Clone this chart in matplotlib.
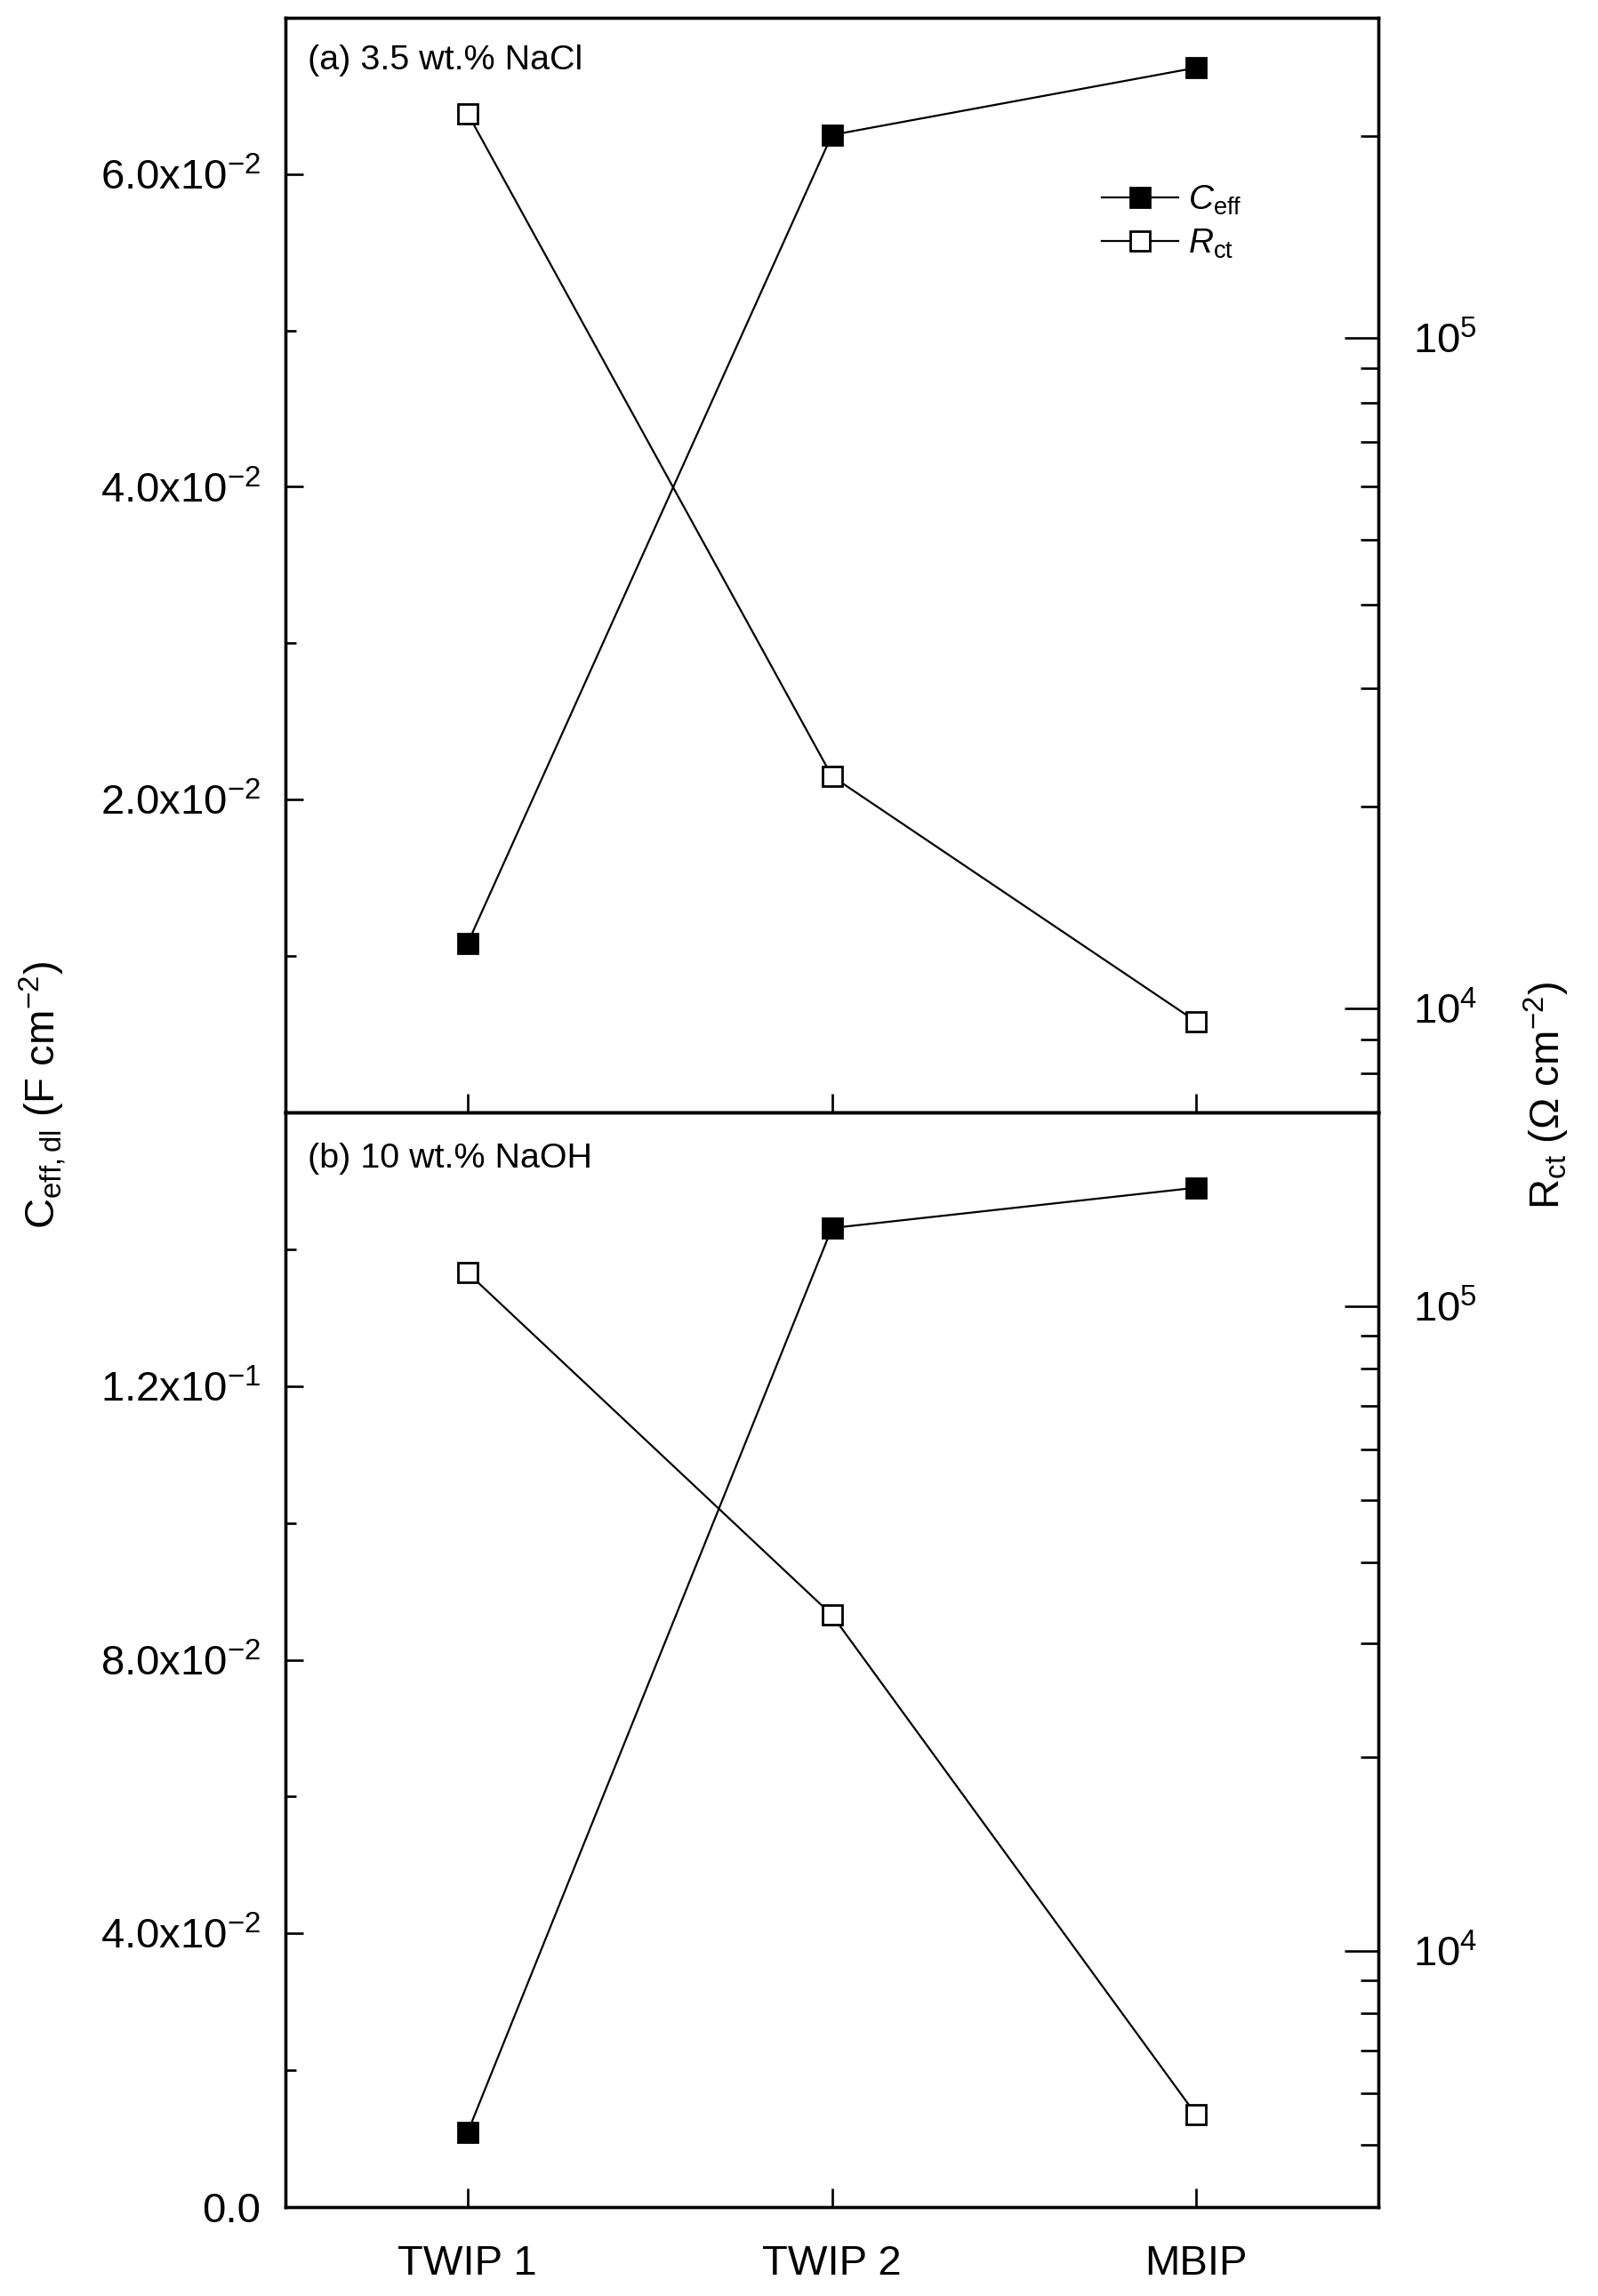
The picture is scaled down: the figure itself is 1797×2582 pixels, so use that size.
import matplotlib
matplotlib.use('Agg')
import matplotlib.pyplot as plt
from matplotlib.lines import Line2D
from matplotlib.ticker import FixedLocator, FixedFormatter, LogLocator, NullFormatter

plt.rcParams['font.family'] = ['Liberation Sans', 'DejaVu Sans']
plt.rcParams['mathtext.fontset'] = 'custom'
plt.rcParams['mathtext.rm'] = 'Liberation Sans'
plt.rcParams['mathtext.it'] = 'Liberation Sans:italic'
plt.rcParams['mathtext.bf'] = 'Liberation Sans:bold'

# data
samples = ['TWIP 1', 'TWIP 2', 'MBIP']
ceff_nacl = [0.0108, 0.0625, 0.0668]      # F cm^-2
rct_nacl = [2.16e5, 2.22e4, 9.56e3]       # Ohm cm^2
ceff_naoh = [0.0109, 0.1431, 0.1490]
rct_naoh = [1.128e5, 3.32e4, 5.56e3]

panel_titles = ['(a) 3.5 wt.% NaCl', '(b) 10 wt.% NaOH']

# left axis ticks
nacl_ceff_ticks = [0.02, 0.04, 0.06]
nacl_ceff_labels = [r'$\mathregular{2.0x10^{-2}}$', r'$\mathregular{4.0x10^{-2}}$',
                    r'$\mathregular{6.0x10^{-2}}$']
nacl_ceff_minor = [0.01, 0.03, 0.05]
naoh_ceff_ticks = [0.0, 0.04, 0.08, 0.12]
naoh_ceff_labels = ['0.0', r'$\mathregular{4.0x10^{-2}}$', r'$\mathregular{8.0x10^{-2}}$',
                    r'$\mathregular{1.2x10^{-1}}$']
naoh_ceff_minor = [0.02, 0.06, 0.10, 0.14]

# right axis ticks
rct_ticks = [1e4, 1e5]
rct_labels = [r'$\mathregular{10^{4}}$', r'$\mathregular{10^{5}}$']

ceff_lims = [(0, 0.07), (0, 0.16)]
rct_lims = [(7e3, 3e5), (4e3, 2e5)]

LW = 0.8
SPINE = 1.2
MS = 8
FS = 17

fig = plt.figure(figsize=(8.985, 12.91), dpi=200)
axes = fig.subplots(2, 1, sharex=True, gridspec_kw=dict(hspace=0))
fig.subplots_adjust(left=0.1786, right=0.8626, top=0.9923, bottom=0.0387)

x = list(range(len(samples)))
panels = [
    (ceff_nacl, rct_nacl, nacl_ceff_ticks, nacl_ceff_labels, nacl_ceff_minor),
    (ceff_naoh, rct_naoh, naoh_ceff_ticks, naoh_ceff_labels, naoh_ceff_minor),
]

twins = []
for i, (ax, (ceff, rct, ticks, labels, minor)) in enumerate(zip(axes, panels)):
    ax.plot(x, ceff, '-s', color='k', mfc='k', mec='k', ms=MS, lw=LW, zorder=3)
    ax.set_ylim(*ceff_lims[i])
    ax.yaxis.set_major_locator(FixedLocator(ticks))
    ax.yaxis.set_major_formatter(FixedFormatter(labels))
    ax.yaxis.set_minor_locator(FixedLocator(minor))

    tw = ax.twinx()
    tw.plot(x, rct, '-s', color='k', mfc='white', mec='k', mew=1.0, ms=MS, lw=LW, zorder=3)
    tw.set_yscale('log')
    tw.set_ylim(*rct_lims[i])
    tw.yaxis.set_major_locator(FixedLocator(rct_ticks))
    tw.yaxis.set_major_formatter(FixedFormatter(rct_labels))
    tw.yaxis.set_minor_locator(LogLocator(base=10, subs=range(2, 10)))
    tw.yaxis.set_minor_formatter(NullFormatter())
    twins.append(tw)

    ax.set_xlim(-0.5, 2.5)
    ax.set_xticks(x)
    ax.tick_params(axis='x', direction='in', length=7.5, width=SPINE * 0.8,
                   pad=15, labelsize=FS, top=False)
    ax.tick_params(axis='y', which='major', direction='in', length=7.2,
                   width=SPINE * 0.8, pad=10, labelsize=FS)
    ax.tick_params(axis='y', which='minor', direction='in', length=4.3,
                   width=SPINE * 0.8)
    tw.tick_params(axis='y', which='major', direction='in', length=13.8,
                   width=SPINE * 0.8, pad=14, labelsize=FS)
    tw.tick_params(axis='y', which='minor', direction='in', length=7.2,
                   width=SPINE * 0.8)
    for a in (ax, tw):
        for s in a.spines.values():
            s.set_linewidth(SPINE)

    ax.text(0.02, 0.961 if i == 0 else 0.958, panel_titles[i], transform=ax.transAxes,
            ha='left', va='center', fontsize=14.2)

axes[1].set_xticklabels(samples)

handles = [
    Line2D([0], [0], marker='s', color='k', mfc='k', ms=MS, lw=LW),
    Line2D([0], [0], marker='s', color='k', mfc='white', mew=1.0, ms=MS, lw=LW),
]
twins[0].legend(handles, [r'$C_{\mathregular{eff}}$', r'$R_{\mathregular{ct}}$'],
                loc='upper left', bbox_to_anchor=(0.747, 0.848), frameon=False,
                fontsize=14, handlelength=2.2, handletextpad=0.3, labelspacing=0.3,
                borderaxespad=0, borderpad=0)

fig.text(0.027, 0.523, r'$\mathregular{C_{eff,dl}\ (F\ cm^{-2})}$', rotation=90,
         ha='center', va='center', fontsize=FS)
fig.text(0.968, 0.523, r'$\mathregular{R_{ct}\ (\Omega\ cm^{-2})}$', rotation=90,
         ha='center', va='center', fontsize=FS)

fig.savefig('out.png', dpi=200)
